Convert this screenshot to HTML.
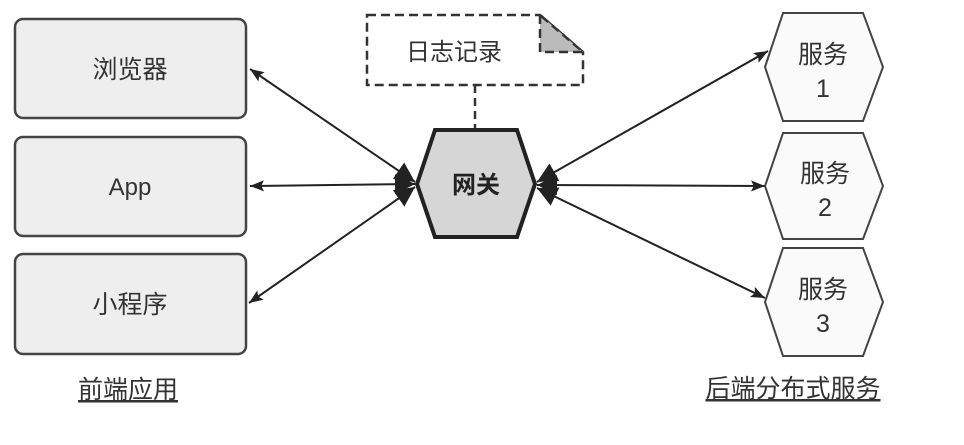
<!DOCTYPE html>
<html><head><meta charset="utf-8"><style>
html,body{margin:0;padding:0;background:#fff;}
svg text{font-family:"Liberation Sans","Noto Sans CJK SC",sans-serif;fill:#333;}
</style></head><body>
<svg width="964" height="440" viewBox="0 0 964 440" xmlns="http://www.w3.org/2000/svg">
<defs>
<marker id="a" viewBox="0 0 10 10" refX="10" refY="5" markerWidth="18" markerHeight="14" orient="auto-start-reverse" markerUnits="userSpaceOnUse">
<path d="M0,1 L10,5 L0,9 L2,5 z" fill="#222"/>
</marker>
<marker id="b" viewBox="0 0 10 10" refX="10" refY="5" markerWidth="20" markerHeight="20" orient="auto-start-reverse" markerUnits="userSpaceOnUse">
<path d="M0,0 L10,5 L0,10 z" fill="#222"/>
</marker>
</defs>
<g stroke="#444" stroke-width="2.5" fill="#eee">
<rect x="15" y="19" width="231" height="99" rx="8"/>
<rect x="15" y="137" width="231" height="99" rx="8"/>
<rect x="15" y="254" width="231" height="100" rx="8"/>
</g>
<text x="130" y="78" font-size="25" text-anchor="middle">浏览器</text>
<text x="130" y="195" font-size="24" text-anchor="middle">App</text>
<text x="130" y="313" font-size="25" text-anchor="middle">小程序</text>
<text x="128" y="398" font-size="25" text-anchor="middle" text-decoration="underline">前端应用</text>
<!-- note -->
<path d="M367,15 L540,15 L583,52 L583,85 L367,85 Z" fill="#fff" stroke="#333" stroke-width="2.5" stroke-dasharray="9,5"/>
<path d="M540,15 L540,52 L583,52 Z" fill="#bbb" stroke="#333" stroke-width="2.5" stroke-dasharray="9,5"/>
<text x="454" y="60" font-size="24" text-anchor="middle">日志记录</text>
<line x1="475" y1="85" x2="475" y2="130" stroke="#333" stroke-width="2.5" stroke-dasharray="8,5"/>
<!-- connectors -->
<g stroke="#222" stroke-width="2" fill="none">
<line x1="250" y1="69" x2="415" y2="182" marker-start="url(#a)" marker-end="url(#b)"/>
<line x1="250" y1="186" x2="415" y2="184" marker-start="url(#a)" marker-end="url(#b)"/>
<line x1="249" y1="303" x2="415" y2="187" marker-start="url(#a)" marker-end="url(#b)"/>
<line x1="537" y1="182" x2="768" y2="51" marker-start="url(#b)" marker-end="url(#a)"/>
<line x1="537" y1="185" x2="765" y2="186" marker-start="url(#b)" marker-end="url(#a)"/>
<line x1="537" y1="188" x2="765" y2="298" marker-start="url(#b)" marker-end="url(#a)"/>
</g>
<polygon points="435,130 517,130 535,184 517,237 435,237 417,184" fill="#d6d6d6" stroke="#222" stroke-width="4"/>
<text x="476" y="193" font-size="24" font-weight="bold" text-anchor="middle" style="fill:#222">网关</text>
<g font-size="25" text-anchor="middle">
</g>
<g fill="#fafafa" stroke="#444" stroke-width="2">
<polygon points="783,13 863,13 883,67 863,121 783,121 765,67"/>
<polygon points="783,133 863,133 883,186 863,239 783,239 765,186"/>
<polygon points="783,248 863,248 883,302 863,356 783,356 765,302"/>
</g>
<g font-size="25" text-anchor="middle">
<text x="823" y="63">服务</text><text x="823" y="97">1</text>
<text x="825" y="182">服务</text><text x="825" y="216">2</text>
<text x="823" y="298">服务</text><text x="823" y="332">3</text>
</g>
<text x="793" y="397" font-size="25" text-anchor="middle" text-decoration="underline">后端分布式服务</text>
</svg>
</body></html>
